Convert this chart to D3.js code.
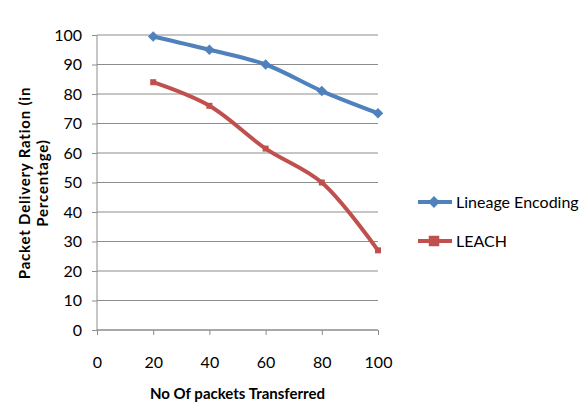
<!DOCTYPE html>
<html>
<head>
<meta charset="utf-8">
<script src="https://cdn.jsdelivr.net/npm/d3@7"></script>
<style>
  body { margin: 0; background: #fff; }
  text { font-family: Lato, "Open Sans", sans-serif; }
</style>
</head>
<body>
<div class="chart"></div>
<script>
// data
const packets = [20, 40, 60, 80, 100];
const lineage = [99.5, 95, 90, 81, 73.5];
const leach = [84, 76, 61.5, 50, 27];
const xTicks = [0, 20, 40, 60, 80, 100];
const yTicks = [0, 10, 20, 30, 40, 50, 60, 70, 80, 90, 100];
const seriesNames = ["Lineage Encoding", "LEACH"];
const seriesColors = ["#4F81BD", "#C0504D"];

let margin = {top: 35, left: 97, right: 209, bottom: 73};
let outWidth = 587, outHeight = 403;
let width = outWidth - margin.left - margin.right,
    height = outHeight - margin.top - margin.bottom;

const svg = d3.select(".chart").append("svg")
    .attr("width", outWidth)
    .attr("height", outHeight);

const g = svg.append("g")
    .attr("transform", `translate(${margin.left}, ${margin.top})`);

let xScale = d3.scaleLinear().domain([0, 100]).range([0, width]);
let yScale = d3.scaleLinear().domain([0, 100]).range([height, 0]);

// gridlines
g.selectAll(".grid")
    .data(yTicks)
    .enter().append("line")
    .attr("x1", 0).attr("x2", width)
    .attr("y1", d => yScale(d)).attr("y2", d => yScale(d))
    .attr("stroke", "#8c8c8c")
    .attr("stroke-width", 1);

const xAxis = d3.axisBottom(xScale).tickValues(xTicks).tickSize(5).tickPadding(22);
const yAxis = d3.axisLeft(yScale).tickValues(yTicks).tickSize(5).tickPadding(10);

const gx = g.append("g")
    .attr("class", "axis x-axis")
    .attr("transform", `translate(0, ${height})`)
    .call(xAxis);
const gy = g.append("g")
    .attr("class", "axis y-axis")
    .call(yAxis);

[gx, gy].forEach(a => {
    a.select(".domain").attr("stroke", "#8c8c8c").attr("stroke-width", 1)
        .attr("d", a === gx ? `M0,0H${width}` : `M0,0V${height}`);
    a.selectAll(".tick line").attr("stroke", "#8c8c8c");
    a.selectAll(".tick text").attr("font-size", 16).attr("fill", "#000")
        .style("font-family", "Lato, sans-serif");
});

const line = d3.line()
    .x((d, i) => xScale(packets[i]))
    .y(d => yScale(d))
    .curve(d3.curveCatmullRom.alpha(0.5));

const allSeries = [lineage, leach];
allSeries.forEach((vals, s) => {
    g.append("path")
        .datum(vals)
        .attr("d", line)
        .attr("fill", "none")
        .attr("stroke", seriesColors[s])
        .attr("stroke-width", 4)
        .attr("stroke-linejoin", "round");
});

function marker(sel, s, size) {
    if (s === 0) {
        sel.append("path").attr("d", d3.symbol(d3.symbolSquare, size)())
            .attr("transform", "rotate(45)")
            .attr("fill", seriesColors[s]);
    } else {
        sel.append("rect").attr("x", -Math.sqrt(size) / 2).attr("y", -Math.sqrt(size) / 2)
            .attr("width", Math.sqrt(size)).attr("height", Math.sqrt(size))
            .attr("fill", seriesColors[s]);
    }
}

allSeries.forEach((vals, s) => {
    vals.forEach((v, i) => {
        const m = g.append("g")
            .attr("transform", `translate(${xScale(packets[i])}, ${yScale(v)})`);
        marker(m, s, s === 0 ? 55 : 36);
    });
});

// axis titles
svg.append("text")
    .attr("x", margin.left + width / 2)
    .attr("y", 399)
    .attr("text-anchor", "middle")
    .attr("font-size", 15)
    .attr("font-weight", "bold")
    .text("No Of packets  Transferred");

const yt = svg.append("text")
    .attr("transform", "translate(30, 183) rotate(-90)")
    .attr("text-anchor", "middle")
    .attr("font-size", 15)
    .attr("font-weight", "bold")
    .attr("letter-spacing", 0.8);
yt.append("tspan").attr("x", 0).attr("dy", 0).text("Packet  Delivery  Ration  (in");
yt.append("tspan").attr("x", 0).attr("dy", 18).text("Percentage)");

// legend
const legend = svg.append("g").attr("transform", "translate(418, 202)");
seriesNames.forEach((name, s) => {
    const row = legend.append("g").attr("transform", `translate(0, ${s * 39})`);
    row.append("line").attr("x1", 0).attr("x2", 34).attr("y1", 0).attr("y2", 0)
        .attr("stroke", seriesColors[s]).attr("stroke-width", 4);
    const m = row.append("g").attr("transform", "translate(16, 0)");
    marker(m, s, s === 0 ? 70 : 110);
    row.append("text").attr("x", 38).attr("y", 0).attr("dy", "0.35em")
        .attr("font-size", 16).text(name);
});
</script>
</body>
</html>
